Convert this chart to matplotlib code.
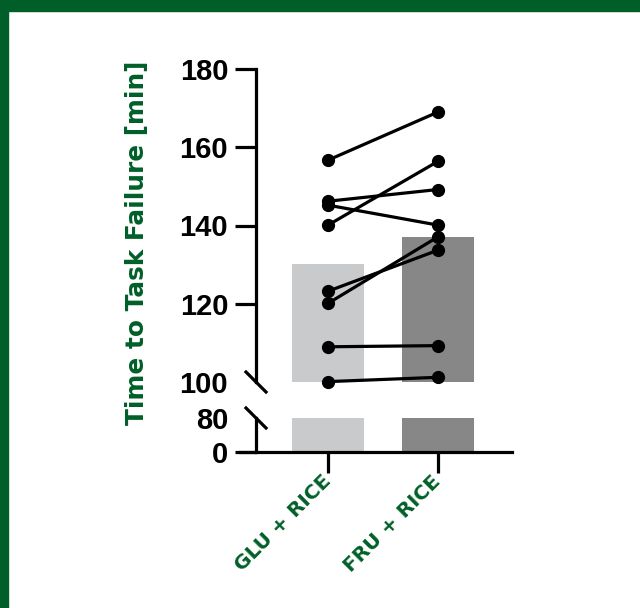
import numpy as np
import matplotlib
matplotlib.use('Agg')
import matplotlib.pyplot as plt
from matplotlib.patches import Rectangle

# data
groups = ['GLU + RICE', 'FRU + RICE']
bar_means = [130.1, 137.0]
glu_vals = [156.7, 146.2, 145.2, 140.1, 123.2, 120.1, 109.0, 100.1]
fru_vals = [169.0, 149.2, 140.1, 156.4, 133.7, 137.1, 109.3, 101.2]
upper_ticks = [100, 120, 140, 160, 180]
lower_ticks = [0, 80]

green = '#005F28'
bar_colors = ['#C9CACC', '#878787']
lw = 2.3
num_font = 'Liberation Sans'
lab_font = 'DejaVu Sans'

fig = plt.figure(figsize=(6.4, 6.08), dpi=100)
W, H = 640, 608

def fpos(x0, x1, ytop, ybot):
    return [x0 / W, 1 - ybot / H, (x1 - x0) / W, (ybot - ytop) / H]

ax_up = fig.add_axes(fpos(240, 512, 69, 382))
ax_lo = fig.add_axes(fpos(240, 512, 418, 452))

x = np.arange(len(groups))
xlim = (-0.8, 1.673)
spine_x = -0.6545
bw = 0.66

for ax in (ax_up, ax_lo):
    ax.set_xlim(*xlim)
    ax.spines['top'].set_visible(False)
    ax.spines['right'].set_visible(False)
    ax.spines['left'].set_position(('data', spine_x))
    ax.spines['left'].set_linewidth(lw)
    ax.spines['bottom'].set_linewidth(lw)
    ax.tick_params(axis='y', length=15, width=lw, pad=5)
    ax.patch.set_alpha(0)

# upper part 100-180
ax_up.set_ylim(100, 180)
ax_up.spines['bottom'].set_visible(False)
ax_up.bar(x, np.array(bar_means) - 100, bottom=100, width=bw, color=bar_colors, zorder=1)
for g, f in zip(glu_vals, fru_vals):
    ax_up.plot(x, [g, f], color='black', lw=lw, marker='o', ms=8.5, clip_on=False, zorder=3)
ax_up.set_yticks(upper_ticks)
ax_up.set_xticks([])

# lower part 0-80
ax_lo.set_ylim(0, 80)
ax_lo.bar(x, [80, 80], width=bw, color=bar_colors, zorder=1)
ax_lo.set_yticks(lower_ticks)
ax_lo.set_xticks(x)
ax_lo.tick_params(axis='x', length=15, width=lw, pad=4)
ax_lo.set_xticklabels(groups, rotation=45, ha='right', va='center', rotation_mode='anchor',
                      color=green, fontsize=14.5, fontweight='bold', family=lab_font)

# no tick marks at the break values, only the slashes
ax_up.yaxis.get_major_ticks()[0].tick1line.set_visible(False)
ax_lo.yaxis.get_major_ticks()[1].tick1line.set_visible(False)

for ax in (ax_up, ax_lo):
    for t in ax.get_yticklabels():
        t.set_fontfamily(num_font)
        t.set_fontweight('bold')
        t.set_fontsize(21)

# break marks
d = 10 / 110
ax_up.plot([spine_x - d, spine_x + d], [100 + 10 / 3.915, 100 - 10 / 3.915], color='black',
           lw=lw, clip_on=False)
ax_lo.plot([spine_x - d, spine_x + d], [80 + 10 / 34 * 80, 80 - 10 / 34 * 80], color='black',
           lw=lw, clip_on=False)

fig.text(137 / W, 1 - 243 / H, 'Time to Task Failure [min]', rotation=90, ha='center', va='center',
         color=green, fontsize=17.8, fontweight='bold', family=lab_font)

# green frame
fig.patches.append(Rectangle((0, 1 - 11 / H), 1, 11 / H, transform=fig.transFigure,
                             color=green, zorder=0))
fig.patches.append(Rectangle((0, 0), 8 / W, 1, transform=fig.transFigure, color=green, zorder=0))

fig.savefig('out.png', dpi=100)
